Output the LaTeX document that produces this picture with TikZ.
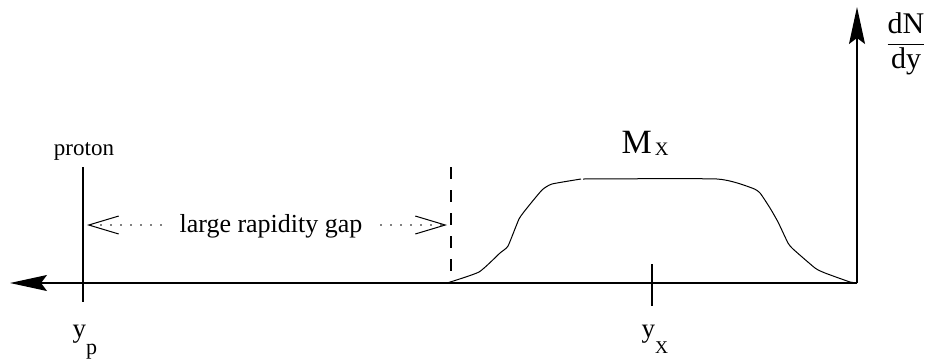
\documentclass[tikz,border=0pt]{standalone}
\usepackage{amsmath}
\usepackage{fontspec}
\setmainfont{Liberation Serif}
\usetikzlibrary{arrows.meta}

\begin{document}
\begin{tikzpicture}[x=1pt,y=-1pt,line width=1.2pt,
  axisarrow/.style={-{Stealth[length=37pt,width=16pt,inset=6pt]}},
  gaparrow/.style={line width=1.8pt,line cap=round,dash pattern=on 0pt off 10pt,
    -{Straight Barb[length=30pt,width=18pt,line width=1pt]}},
  lbl/.style={inner sep=0pt,anchor=base west}]
\useasboundingbox (0,0) rectangle (933,360);
% axes
\coordinate (O) at (857,283);
\coordinate (xend) at (10,283);
\coordinate (yend) at (857,7);
\draw[axisarrow] (O) -- (xend);
\draw[axisarrow] (O) -- (yend);
\node (dndy) at (906,44) {\fontsize{30}{30}\selectfont$\displaystyle\frac{\text{dN}}{\text{dy}}$};
% proton
\coordinate (ptop) at (83,167);
\coordinate (pbot) at (83,302);
\draw (ptop) -- (pbot);
\node[inner sep=0pt,anchor=base] (proton) at (84,155) {\fontsize{23}{23}\selectfont proton};
\node[lbl] (yp) at (72,337) {\fontsize{27}{27}\selectfont y\raisebox{-17pt}{\fontsize{22}{22}\selectfont p}};
% gap
\coordinate (gtop) at (451,167);
\coordinate (gbot) at (451,272);
\draw[dash pattern=on 12pt off 11pt] (gtop) -- (gbot);
\node[inner ysep=0pt,inner xsep=18pt,anchor=base] (gap) at (271,232) {\fontsize{26}{26}\selectfont large rapidity gap};
\coordinate (gapL) at (87,225);
\coordinate (gapR) at (447,225);
\draw[gaparrow] (gap.west |- gapL) -- (gapL);
\draw[gaparrow] (gap.east |- gapR) -- (gapR);
% M_X distribution
\draw[line width=1pt] plot[smooth,tension=0.3] coordinates {(447,283) (479,272) (500,253) (508,246) (519,219) (527,208) (542,190) (552,184) (581,179)};
\draw[line width=1pt] plot[smooth,tension=0.3] coordinates {(583,179) (717,179) (752,188) (760,193) (770,208) (778,222) (788,243) (793,249) (815,268) (825,273) (850,282) (857,283)};
\node[lbl] (mx) at (621,153) {\fontsize{34}{34}\selectfont M\hspace{3pt}\raisebox{-2pt}{\fontsize{19}{19}\selectfont X}};
\coordinate (xtop) at (652,264);
\coordinate (xbot) at (652,306);
\draw (xtop) -- (xbot);
\node[lbl] (yx) at (641,337) {\fontsize{27}{27}\selectfont y\raisebox{-16pt}{\fontsize{18}{18}\selectfont X}};
\end{tikzpicture}
\end{document}
